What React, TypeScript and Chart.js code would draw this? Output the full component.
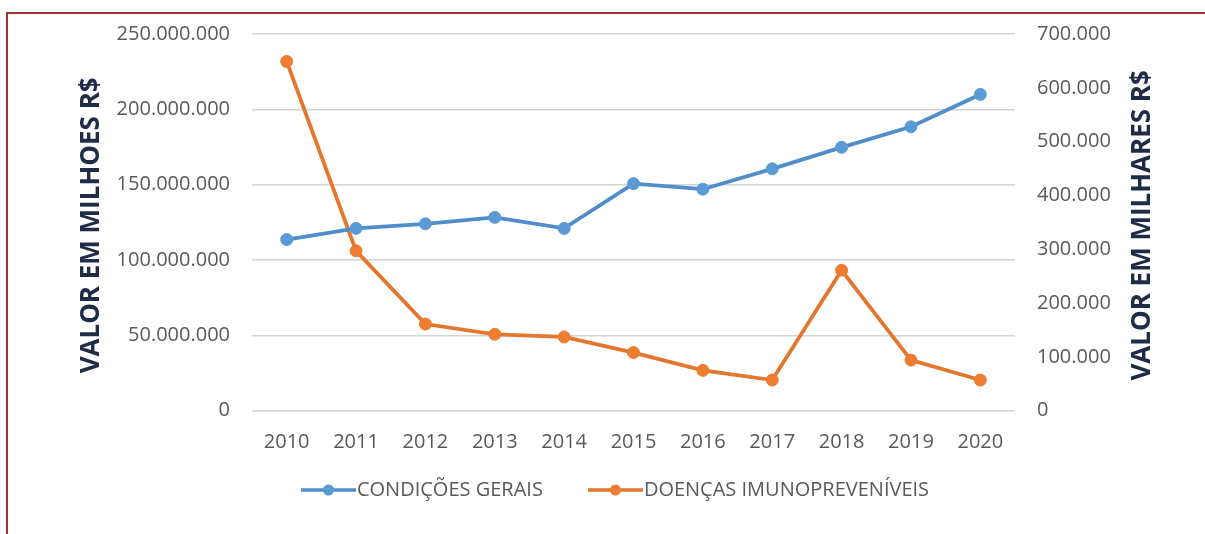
import React, { useEffect, useRef } from 'react';
import { Chart, registerables } from 'chart.js';

Chart.register(...registerables);

const years = ['2010', '2011', '2012', '2013', '2014', '2015', '2016', '2017', '2018', '2019', '2020'];
const condicoesGerais = [113600000, 121000000, 124000000, 128300000, 121000000, 150700000, 147000000, 160500000, 174800000, 188400000, 209900000];
const doencasImunopreveniveis = [649000, 297000, 161000, 142000, 137000, 108000, 75000, 57000, 261000, 94000, 57000];
const seriesNames = ['CONDIÇÕES GERAIS', 'DOENÇAS IMUNOPREVENÍVEIS'];
const leftTitle = 'VALOR EM MILHOES R$';
const rightTitle = 'VALOR EM MILHARES R$';
const leftMax = 250000000;
const leftStep = 50000000;
const rightMax = 700000;
const rightStep = 100000;

const BLUE = '#5B9BD5';
const BLUE_LINE = '#4F8DCB';
const ORANGE = '#ED7D31';
const ORANGE_LINE = '#E3772E';
const TICK = '#595959';
const TITLE = '#1F2B47';
const FONT = '"Open Sans", "DejaVu Sans", sans-serif';

const LEGEND_BOX = 81;
const MARK_W = 55;

const fmt = (v: number) => String(Math.round(v)).replace(/\B(?=(\d{3})+(?!\d))/g, '.');

// legend marker: line with a dot, drawn at the right end of a wider transparent canvas
function makeMarker(line: string, fill: string): HTMLCanvasElement {
  const c = document.createElement('canvas');
  c.width = LEGEND_BOX + 18;
  c.height = 14;
  const g = c.getContext('2d')!;
  const x0 = c.width - MARK_W;
  g.strokeStyle = line;
  g.lineWidth = 3.5;
  g.beginPath();
  g.moveTo(x0, 7);
  g.lineTo(c.width, 7);
  g.stroke();
  g.fillStyle = fill;
  g.beginPath();
  g.arc(x0 + MARK_W / 2, 7, 5.5, 0, Math.PI * 2);
  g.fill();
  return c;
}

const axisTitles = {
  id: 'axisTitles',
  afterDraw(chart: any) {
    const { ctx, chartArea } = chart;
    const cy = (chartArea.top + chartArea.bottom) / 2;
    ctx.save();
    ctx.font = `bold 26px ${FONT}`;
    ctx.fillStyle = TITLE;
    ctx.textAlign = 'center';
    ctx.textBaseline = 'middle';
    const items: [number, string][] = [
      [chart.scales.y.left + 92, leftTitle],
      [chart.scales.y1.left + 128, rightTitle],
    ];
    items.forEach(([x, t]) => {
      ctx.save();
      ctx.translate(x, cy + 3);
      ctx.rotate(-Math.PI / 2);
      ctx.fillText(t, 0, 0);
      ctx.restore();
    });
    ctx.restore();
  },
};

export default function App() {
  const ref = useRef<HTMLCanvasElement | null>(null);

  useEffect(() => {
    if (!ref.current) return;
    const markers = [makeMarker(BLUE_LINE, BLUE), makeMarker(ORANGE_LINE, ORANGE)];
    const chart = new Chart(ref.current, {
      type: 'line',
      data: {
        labels: years,
        datasets: [
          {
            label: seriesNames[0],
            data: condicoesGerais,
            yAxisID: 'y',
            borderColor: BLUE_LINE,
            backgroundColor: BLUE,
            pointBackgroundColor: BLUE,
            pointBorderColor: BLUE,
            borderWidth: 3.8,
            pointRadius: 6,
            pointBorderWidth: 1,
            tension: 0,
          },
          {
            label: seriesNames[1],
            data: doencasImunopreveniveis,
            yAxisID: 'y1',
            borderColor: ORANGE_LINE,
            backgroundColor: ORANGE,
            pointBackgroundColor: ORANGE,
            pointBorderColor: ORANGE,
            borderWidth: 3.8,
            pointRadius: 6,
            pointBorderWidth: 1,
            tension: 0,
          },
        ],
      },
      options: {
        animation: false,
        responsive: false,
        maintainAspectRatio: false,
        layout: { padding: { left: 0, right: 10, top: 31, bottom: 24 } },
        plugins: {
          tooltip: { enabled: false },
          legend: {
            position: 'bottom',
            labels: {
              usePointStyle: true,
              pointStyleWidth: LEGEND_BOX,
              padding: 10,
              color: TICK,
              font: { family: FONT, size: 20 },
              generateLabels: (c: any) =>
                c.data.datasets.map((d: any, i: number) => ({
                  text: d.label,
                  pointStyle: markers[i],
                  fillStyle: d.backgroundColor,
                  strokeStyle: d.borderColor,
                  lineWidth: 0,
                  fontColor: TICK,
                  hidden: false,
                  datasetIndex: i,
                })),
            },
          },
        },
        scales: {
          x: {
            type: 'category',
            offset: true,
            grid: { display: false },
            border: { display: false },
            ticks: { color: TICK, font: { family: FONT, size: 20 }, padding: 11.5, maxRotation: 0, autoSkip: false },
            afterFit: (s: any) => {
              s.height = 59.3;
            },
          },
          y: {
            position: 'left',
            min: 0,
            max: leftMax,
            grid: { color: '#D4D4D4', lineWidth: 1.6, drawTicks: false },
            border: { display: false },
            ticks: {
              stepSize: leftStep,
              color: TICK,
              padding: 22,
              font: { family: FONT, size: 20 },
              callback: (v: any) => fmt(Number(v)),
            },
            afterFit: (s: any) => {
              s.width = 252;
            },
          },
          y1: {
            position: 'right',
            min: 0,
            max: rightMax,
            grid: { display: false, drawTicks: false },
            border: { display: false },
            ticks: {
              stepSize: rightStep,
              color: TICK,
              padding: 22,
              font: { family: FONT, size: 20 },
              callback: (v: any) => fmt(Number(v)),
            },
            afterFit: (s: any) => {
              s.width = 180;
            },
          },
        },
      },
      plugins: [axisTitles],
    } as any);
    return () => chart.destroy();
  }, []);

  return (
    <div style={{ position: 'fixed', left: 0, top: 0, width: 1205, height: 534, background: '#fff', overflow: 'hidden' }}>
      <canvas ref={ref} width={1205} height={534} style={{ position: 'absolute', left: 0, top: 0, width: 1205, height: 534 }} />
      <div
        style={{
          position: 'absolute',
          left: 6,
          top: 12,
          width: 1220,
          height: 600,
          borderTop: '2px solid #9E3434',
          borderLeft: '2px solid #9E3434',
          pointerEvents: 'none',
        }}
      />
    </div>
  );
}
